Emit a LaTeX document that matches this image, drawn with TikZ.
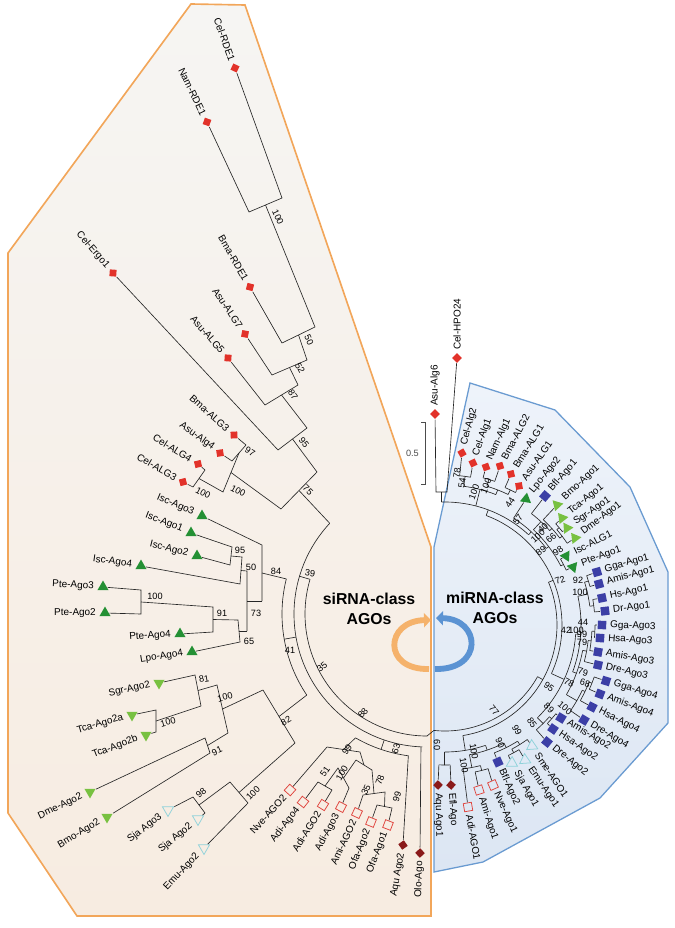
\documentclass[tikz,border=0pt]{standalone}
\usepackage{fontspec}
\setmainfont{Liberation Sans}
\usetikzlibrary{arrows.meta,shapes.geometric,calc}
\definecolor{sitop}{HTML}{F6F5F3}
\definecolor{sibot}{HTML}{F7ECE1}
\definecolor{siline}{HTML}{F2A65A}
\definecolor{mitop}{HTML}{EEF3FA}
\definecolor{mibot}{HTML}{DCE6F3}
\definecolor{miline}{HTML}{6A9BD1}
\definecolor{nemred}{HTML}{E2322A}
\definecolor{chelgreen}{HTML}{249034}
\definecolor{insgreen}{HTML}{78C141}
\definecolor{platcyan}{HTML}{8FD2DA}
\definecolor{cnidred}{HTML}{E0453E}
\definecolor{spongered}{HTML}{8A1A1A}
\definecolor{vertblue}{HTML}{3C3FA6}
\definecolor{siarrow}{HTML}{F5B26B}
\definecolor{miarrow}{HTML}{5B93D3}
\tikzset{
  br/.style={line width=0.55pt,black!85},
  mk/.style={inner sep=0pt,outer sep=0.5pt},
  nemd/.style={mk,diamond,fill=nemred,minimum size=8.6pt},
  spod/.style={mk,diamond,fill=spongered,minimum size=8.6pt},
  vsq/.style={mk,rectangle,fill=vertblue,minimum size=7.2pt},
  csq/.style={mk,rectangle,draw=cnidred,line width=0.65pt,minimum size=7pt},
  chtri/.style={mk,regular polygon,regular polygon sides=3,fill=chelgreen,minimum size=11pt},
  intri/.style={mk,regular polygon,regular polygon sides=3,fill=insgreen,minimum size=11pt},
  pltri/.style={mk,regular polygon,regular polygon sides=3,draw=platcyan,line width=0.65pt,minimum size=11pt},
  lbl/.style={font=\fontsize{8.5}{9}\selectfont,inner sep=0pt},
  lblL/.style={lbl,anchor=east},
  lblR/.style={lbl,anchor=west},
  bs/.style={font=\fontsize{7.8}{8}\selectfont,inner sep=0pt},
  clade/.style={font=\fontsize{13.5}{17}\selectfont\bfseries,align=center},
}

\begin{document}
\begin{tikzpicture}[x=0.03cm,y=-0.03cm]
  \useasboundingbox (0,0) rectangle (675,928);
  % the two panels
  \path[draw=siline,line width=1.4pt,top color=sitop,bottom color=sibot]
    (191,4) -- (245,5) -- (431,547) -- (431,916) -- (77,916) -- (8,813) -- (8,253) -- cycle;
  \path[draw=miline,line width=1.1pt,top color=mitop,bottom color=mibot]
    (470,383) -- (555,410) -- (630,487) -- (668,572) -- (668,723) -- (600,798)
    -- (483,862) -- (434,872) -- (434,547) -- cycle;
  \coordinate (CL) at (427,614);
  \coordinate (CR) at (445,625);

  % siRNA-class leaves
  \foreach \n/\x/\y/\rot/\lab in {celrde1/235/68/-70/Cel-RDE1, namrde1/207/122/-64/Nam-RDE1,
      bmarde1/250/287/-60/Bma-RDE1, asualg7/245/334/-56/Asu-ALG7, asualg5/228/358/-49/Asu-ALG5,
      celergo1/113/273/-49/Cel-Ergo1, bmaalg3/234/435/-42/Bma-ALG3, asualg4/220/453/-36/Asu-Alg4,
      celalg4/198/464/-32/Cel-ALG4, celalg3/183/482/-30/Cel-ALG3}{
    \node[nemd,rotate=\rot] (\n) at (\x,\y) {};
    \node[lblL,rotate=\rot] (\n-t) at ([shift={({-(\rot)-180}:8)}]\n) {\lab};
  }
  \foreach \n/\x/\y/\rot/\lab in {iscago3/202/516/-23/Isc-Ago3, iscago1/191/533/-21/Isc-Ago1,
      iscago2/197/556/-14/Isc-Ago2, iscago4/141/566/-8/Isc-Ago4, pteago3/103/587/-3/Pte-Ago3,
      pteago2/105/613/0/Pte-Ago2, pteago4/180/634/4/Pte-Ago4, lpoago4/192/652/9/Lpo-Ago4}{
    \node[chtri] (\n) at (\x,\y) {};
    \node[lblL,rotate=\rot] (\n-t) at ([shift={({-(\rot)-180}:9)}]\n) {\lab};
  }
  \foreach \n/\x/\y/\rot/\lab in {sgrago2/159/683/12/Sgr-Ago2, tcaago2a/132/715/16/Tca-Ago2a,
      tcaago2b/146/735/21/Tca-Ago2b, dmeago2/90/792/26/Dme-Ago2, bmoago2/107/817/31/Bmo-Ago2}{
    \node[intri,rotate=180] (\n) at (\x,\y) {};
    \node[lblL,rotate=\rot] (\n-t) at ([shift={({-(\rot)-180}:9)}]\n) {\lab};
  }
  \foreach \n/\x/\y/\rot/\lab in {sjaago3/168/810/38/Sja Ago3, sjaago2/198/819/40/Sja Ago2,
      emuago2/204/848/47/Emu-Ago2}{
    \node[pltri,rotate=180] (\n) at (\x,\y) {};
    \node[lblL,rotate=\rot] (\n-t) at ([shift={({-(\rot)-180}:9)}]\n) {\lab};
  }
  \foreach \n/\x/\y/\rot/\lab in {nveago2/290/790/48/Nve-AGO2, adiago4/303/802/52/Adi-Ago4,
      adiago2/323/805/58/Adi-AGO2, adiago3/341/807/62/Adi-Ago3, amiago2/357/813/65/Ami-AGO2,
      ofaago2/371/822/68/Ofa-Ago2, ofaago1/388/825/69/Ofa-Ago1}{
    \node[csq,rotate=\rot] (\n) at (\x,\y) {};
    \node[lblL,rotate=\rot] (\n-t) at ([shift={({-(\rot)-180}:8)}]\n) {\lab};
  }
  \foreach \n/\x/\y/\rot/\lab in {aquago2/403/845/80/Aqu Ago2, oloago/420/853/88/Olo-Ago}{
    \node[spod,rotate=\rot] (\n) at (\x,\y) {};
    \node[lblL,rotate=\rot] (\n-t) at ([shift={({-(\rot)-180}:8)}]\n) {\lab};
  }

  % miRNA-class leaves
  \foreach \n/\x/\y/\rot/\lab in {celhpo24/457/358/90/Cel-HPO24, asualg6/435/414/90/Asu-Alg6,
      celalg2/462/453/75/Cel-Alg2, celalg1/473/463/70/Cel-Alg1, namalg1/486/467/65/Nam-Alg1,
      bmaalg2/500/466/62/Bma-ALG2, bmaalg1/511/474/58/Bma-ALG1, asualg1/519/486/55/Asu-ALG1}{
    \node[nemd,rotate=\rot] (\n) at (\x,\y) {};
    \node[lblR,rotate=\rot] (\n-t) at ([shift={({-(\rot)}:8)}]\n) {\lab};
  }
  \foreach \n/\x/\y/\rot/\lab in {lpoago2/526/499/51/Lpo-Ago2, iscalg1/566/556/27/Isc-ALG1,
      pteago1/573/567/20/Pte-Ago1}{
    \node[chtri,rotate=\rot+180] (\n) at (\x,\y) {};
    \node[lblR,rotate=\rot] (\n-t) at ([shift={({-(\rot)}:9)}]\n) {\lab};
  }
  \foreach \n/\x/\y/\rot/\lab in {bmoago1/557/505/43/Bmo-Ago1, tcaago1/562/518/38/Tca-Ago1,
      sgrago1/567/528/34/Sgr-Ago1, dmeago1/575/538/37/Dme-Ago1}{
    \node[intri,rotate=\rot] (\n) at (\x,\y) {};
    \node[lblR,rotate=\rot] (\n-t) at ([shift={({-(\rot)}:9)}]\n) {\lab};
  }
  \foreach \n/\x/\y/\rot/\lab in {bflago1/545/496/49/Bfl-Ago1, ggaago1/597/572/16/Gga-Ago1,
      amisago1/599/584/15/Amis-Ago1, hsago1/602/598/12/Hs-Ago1, drago1/605/611/7/Dr-Ago1,
      ggaago3/602/625/-2/Gga-Ago3, hsaago3/600/638/-4/Hsa-Ago3, amisago3/598/652/-10/Amis-Ago3,
      dreago3/598/665/-13/Dre-Ago3, ggaago4/606/681/-17/Gga-Ago4, amisago4/600/694/-21/Amis-Ago4,
      hsaago4/592/707/-27/Hsa-Ago4, dreago4/584/720/-31/Dre-Ago4, amisago2/561/718/-31/Amis-Ago2,
      hsaago2/553/729/-34/Hsa-Ago2, dreago2/547/742/-39/Dre-Ago2, bflago2/498/762/-66/Bfl-Ago2}{
    \node[vsq,rotate=\rot] (\n) at (\x,\y) {};
    \node[lblR,rotate=\rot] (\n-t) at ([shift={({-(\rot)}:8)}]\n) {\lab};
  }
  \foreach \n/\x/\y/\rot/\lab in {smeago1/532/746/-56/Sme-AGO1, emuago1/525/760/-56/Emu-Ago1,
      sjaago1/512/763/-61/Sja Ago1}{
    \node[pltri,rotate=\rot+180] (\n) at (\x,\y) {};
    \node[lblR,rotate=\rot] (\n-t) at ([shift={({-(\rot)}:9)}]\n) {\lab};
  }
  \foreach \n/\x/\y/\rot/\lab in {nveago1/493/785/-66/Nve-Ago1, amiago1/479/790/-72/Ami-Ago1,
      adiago1/468/807/-80/Adi-AGO1}{
    \node[csq,rotate=\rot] (\n) at (\x,\y) {};
    \node[lblR,rotate=\rot] (\n-t) at ([shift={({-(\rot)}:8)}]\n) {\lab};
  }
  \foreach \n/\x/\y/\rot/\lab in {eflago/451/785/-86/Efl-Ago, aquago1/438/785/-89/Aqu Ago1}{
    \node[spod,rotate=\rot] (\n) at (\x,\y) {};
    \node[lblR,rotate=\rot] (\n-t) at ([shift={({-(\rot)}:8)}]\n) {\lab};
  }

  % siRNA-class branches: nematode clade
  \coordinate (a1) at (282,198);  \coordinate (a2) at (249,212);
  \coordinate (a3) at (315,327);  \coordinate (a4) at (282,343);
  \coordinate (a5) at (307,360);  \coordinate (a6) at (272,375);
  \coordinate (a7) at (298,385);  \coordinate (a8) at (265,405);
  \coordinate (a9) at (307,428);  \coordinate (a10) at (278,450);
  \coordinate (a11) at (317,472); \coordinate (a12) at (281,509);
  \coordinate (a13) at ([shift={(223:133)}]CL);
  \draw[br] (celrde1) -- (a1) -- (a2) -- (namrde1);
  \draw[br] ($(a1)!.5!(a2)$) -- (a3) -- (a4) -- (bmarde1);
  \draw[br] ($(a3)!.5!(a4)$) -- (a5) -- (a6) -- (asualg7);
  \draw[br] ($(a5)!.5!(a6)$) -- (a7) -- (a8) -- (asualg5);
  \draw[br] ($(a7)!.5!(a8)$) -- (a9) -- (a10) -- (celergo1);
  \draw[br] ($(a9)!.5!(a10)$) -- (a11) -- (a12);
  \draw[br] ($(a11)!.5!(a12)$) -- (a13);
  \coordinate (b1) at (246,445); \coordinate (b2) at (232,461);
  \coordinate (b3) at (205,470); \coordinate (b4) at (193,487);
  \coordinate (b5) at (223,492); \coordinate (m97) at ($(b1)!.5!(b2)$);
  \draw[br] (bmaalg3) -- (b1) -- (b2) -- (asualg4);
  \draw[br] (celalg4) -- (b3) -- (b4) -- (celalg3);
  \draw[br] ($(b3)!.5!(b4)$) -- (b5) -- (m97);
  \draw[br] ($(b5)!.5!(m97)$) -- (a12);
  % chelicerate clade
  \coordinate (c1) at (262,545);  \coordinate (c2) at (232,547);
  \coordinate (c3) at (230,565);  \coordinate (c4) at (242,557);
  \coordinate (c5) at (240,584);  \coordinate (c6) at (141,590);
  \coordinate (c7) at (141,614);  \coordinate (c8) at (213,607);
  \coordinate (c9) at (213,632);  \coordinate (c10) at (238,620);
  \coordinate (c11) at (240,642); \coordinate (c12) at (247,631);
  \coordinate (c13) at (247,571); \coordinate (c14) at (262,601);
  \coordinate (c15) at ([shift={(194:145)}]CL);
  \draw[br] (iscago3) -- (c1) -- (c14);
  \draw[br] (iscago1) -- (c2) -- (c3) -- (iscago2);
  \draw[br] ($(c2)!.5!(c3)$) -- (c4) -- (c5) -- (iscago4);
  \draw[br] ($(c4)!.5!(c5)$) -- (c13) -- (c12);
  \draw[br] (pteago3) -- (c6) -- (c7) -- (pteago2);
  \draw[br] ($(c6)!.5!(c7)$) -- (c8) -- (c9) -- (pteago4);
  \draw[br] ($(c8)!.5!(c9)$) -- (c10) -- (c11) -- (lpoago4);
  \draw[br] ($(c10)!.5!(c11)$) -- (c12);
  \draw[br] ($(c13)!.5!(c12)$) -- (c14);
  \draw[br] ($(c1)!.5!(c14)$) -- (c15);
  % insect and flatworm clades
  \coordinate (d1) at (195,675); \coordinate (d2) at (156,710);
  \coordinate (d3) at (156,732); \coordinate (d4) at (201,706);
  \coordinate (d5) at (217,685); \coordinate (d6) at (205,738);
  \coordinate (d7) at (210,753); \coordinate (d8) at (228,733);
  \coordinate (d9) at (263,690);
  \draw[br] (sgrago2) -- (d1) -- (d4);
  \draw[br] (tcaago2a) -- (d2) -- (d3) -- (tcaago2b);
  \draw[br] ($(d2)!.5!(d3)$) -- (d4);
  \draw[br] ($(d1)!.5!(d4)$) -- (d5) -- (d8);
  \draw[br] (dmeago2) -- (d6) -- (d7) -- (bmoago2);
  \draw[br] ($(d6)!.5!(d7)$) -- (d8);
  \draw[br] ($(d5)!.5!(d8)$) -- (d9);
  \coordinate (e1) at (193,797); \coordinate (e2) at (205,813);
  \coordinate (e3) at (230,782); \coordinate (e4) at (248,803);
  \coordinate (e5) at (295,743); \coordinate (e6) at ([shift={(146:145)}]CL);
  \draw[br] (sjaago3) -- (e1) -- (e2) -- (sjaago2);
  \draw[br] ($(e1)!.5!(e2)$) -- (e3) -- (e4) -- (emuago2);
  \draw[br] ($(e3)!.5!(e4)$) -- (e5) -- (d9);
  \draw[br] ($(d9)!.5!(e5)$) -- (e6);
  % cnidarian and sponge leaves
  \coordinate (g1) at (327,747);  \coordinate (g2) at (318,782);
  \coordinate (g3) at (332,790);  \coordinate (g4) at (338,768);
  \coordinate (g5) at (349,788);  \coordinate (g6) at (356,760);
  \coordinate (g7) at (363,795);  \coordinate (g8) at (377,805);
  \coordinate (g9) at (392,808);  \coordinate (g10) at (385,792);
  \coordinate (g11) at (372,770); \coordinate (g12) at (360,752);
  \coordinate (f1) at ([shift={(92.6:133)}]CL);
  \coordinate (f2) at ([shift={(97.5:143)}]CL);
  \coordinate (f3) at ([shift={(120:143)}]CL);
  \draw[br] (nveago2) -- (g1);
  \draw[br] (adiago4) -- (g2) -- (g3) -- (adiago2);
  \draw[br] ($(g2)!.5!(g3)$) -- (g4) -- (g5) -- (adiago3);
  \draw[br] ($(g4)!.5!(g5)$) -- (g6);
  \draw[br] (ofaago2) -- (g8) -- (g9) -- (ofaago1);
  \draw[br] ($(g8)!.5!(g9)$) -- (g10) -- (g7) -- (amiago2);
  \draw[br] ($(g10)!.5!(g7)$) -- (g11) -- (g6);
  \draw[br] ($(g11)!.5!(g6)$) -- (g12) -- (g1);
  \draw[br] ($(g12)!.5!(g1)$) -- (f3);
  \draw[br] (oloago) -- (f1);
  \draw[br] (aquago2) -- (f2) arc[start angle=97.5,end angle=120,radius=143];
  \draw[br] ([shift={(108.75:143)}]CL) -- ([shift={(108.75:133)}]CL);
  % siRNA-class backbone
  \draw[br] (e6) arc[start angle=146,end angle=194,radius=145];
  \draw[br] ([shift={(170:145)}]CL) -- ([shift={(170:133)}]CL);
  \draw[br] ([shift={(92:133)}]CL) arc[start angle=92,end angle=223,radius=133];
  \draw[br] ([shift={(196.5:133)}]CL) -- ([shift={(196.5:122)}]CL);
  \draw[br] ([shift={(90:122)}]CL) arc[start angle=90,end angle=196.5,radius=122];
  \draw[br] ([shift={(90:122)}]CL) -- ([shift={(96:106)}]CR);

  % miRNA-class branches
  \coordinate (h1) at (436,492); \coordinate (h2) at (447,492);
  \coordinate (h3) at ([shift={(268.4:123)}]CR);
  \draw[br] (asualg6) -- (h1) -- (h2) -- (celhpo24);
  \draw[br] ($(h1)!.5!(h2)$) -- (h3);
  \foreach \n/\a/\p in {celalg2/275.6/150, celalg1/279.8/150, namalg1/284.5/152, bmaalg2/289.1/152,
      bmaalg1/293.6/150, asualg1/298/150, lpoago2/302.7/127, bflago1/307.8/141, bmoago1/313/144,
      tcaago1/317.6/150, sgrago1/321.5/150, dmeago1/326.2/147, iscalg1/330.3/133, pteago1/335.6/133,
      ggaago1/340.8/150, amisago1/345.1/150, hsago1/350.2/150, drago1/355/150, ggaago3/360/150,
      hsaago3/364.8/150, amisago3/370/147, dreago3/374.7/144, ggaago4/379.2/158, amisago4/384/158,
      hsaago4/389.2/155, dreago4/394.3/152, amisago2/398.7/142, hsaago2/403.9/142, dreago2/408.9/139,
      smeago1/414.3/141, emuago1/419.3/145, sjaago1/424.1/145, bflago2/428.9/137, nveago1/433.3/150,
      amiago1/438.4/150, adiago1/442.8/145, eflago/447.9/140, aquago1/452.5/140}
    \draw[br] (\n) -- ([shift={(\a:\p)}]CR);
  \foreach \p/\a/\b/\q in {150/275.6/279.8/140, 152/284.5/289.1/145, 150/293.6/298/145,
      145/286.8/295.8/140, 140/277.7/291.3/123, 150/317.6/321.5/147, 147/319.55/326.2/144,
      144/313/322.9/141, 141/307.8/317.95/130, 133/330.3/335.6/130, 130/312.9/332.95/127,
      127/302.7/322.9/123, 123/268.4/312.8/117, 150/340.8/345.1/146, 150/350.2/355/146,
      146/342.95/352.6/136, 150/360/364.8/147, 147/362.4/370/144, 144/366.2/374.7/140,
      158/379.2/384/155, 155/381.6/389.2/152, 152/385.4/394.3/140, 140/370.45/389.85/136,
      136/347.8/380.15/131, 142/398.7/403.9/139, 139/401.3/408.9/131, 131/363.98/405.1/117,
      117/290.6/384.5/112, 145/419.3/424.1/141, 141/414.3/421.7/137, 137/418/428.9/132,
      150/433.3/438.4/145, 145/435.85/442.8/132, 132/423.45/439.3/127, 140/447.9/452.5/127,
      127/431.4/450.2/112, 112/337.55/440.8/106}{
    \pgfmathsetmacro\m{(\a+\b)/2}
    \draw[br] ([shift={(\a:\p)}]CR) arc[start angle=\a,end angle=\b,radius=\p];
    \draw[br] ([shift={(\m:\p)}]CR) -- ([shift={(\m:\q)}]CR);
  }
  \draw[br] ([shift={(389.2:106)}]CR) arc[start angle=389.2,end angle=456,radius=106];

  % support values
  \foreach \x/\y/\rot/\v [count=\i] in {278/217/-65/100, 309/340/-65/50, 300/368/-60/52,
      293/395/-55/87, 304/443/-52/95, 308/490/-45/75, 250/452/-32/97, 203/493/-28/100,
      238/491/-28/100, 240/550/0/95, 251/567/0/50, 276/571/0/84, 310/573/-8/39, 155/596/0/100,
      222/613/0/91, 256/613/0/73, 249/641/0/65, 290/650/0/41, 204/679/10/81, 225/697/15/100,
      168/722/15/100, 286/721/30/82, 217/751/25/91, 201/793/40/98, 253/793/45/100,
      322/667/40/35, 363/713/50/88, 347/750/55/99, 396/749/75/63, 325/772/55/51,
      342/773/60/100, 366/790/65/35, 380/780/70/78, 397/797/75/99}
    \node[bs,rotate=\rot] (sv\i) at (\x,\y) {\v};
  \foreach \x/\y/\rot/\v [count=\i] in {457/473/82/78, 462/483/82/54, 474/492/70/100,
      486/486/68/100, 510/503/55/44, 518/520/52/57, 543/528/45/40, 538/536/42/100, 551/538/40/66,
      541/551/35/89, 558/551/35/98, 560/580/20/72, 578/580/0/92, 580/592/0/100, 566/630/0/42,
      583/622/0/44, 576/630/0/100, 582/634/0/99, 582/642/0/79, 583/672/-15/79, 585/683/-15/68,
      569/683/-25/78, 549/687/-35/95, 565/708/-40/100, 549/708/-45/89, 532/723/-55/85,
      517/730/-60/99, 500/743/-65/90, 494/710/-50/77, 474/751/-80/100, 464/765/-80/100,
      437/745/-90/60}
    \node[bs,rotate=\rot] (sw\i) at (\x,\y) {\v};

  % scale bar
  \draw[black!70,line width=0.5pt] (421,422) -- (425,422) -- (425,484) -- (421,484);
  \node[bs,anchor=east,text=black!70] (scale) at (419,453) {0.5};

  % class titles and arrows
  \node[clade] (sitext) at (369,609) {siRNA-class\\AGOs};
  \node[clade] (mitext) at (495,608) {miRNA-class\\AGOs};
  \draw[line width=5pt,draw=siarrow,-{Triangle[length=6pt,width=12pt]}]
    (429,669) .. controls (382,670) and (385,621) .. (431,620);
  \draw[line width=5pt,draw=miarrow,-{Triangle[length=6pt,width=12pt]}]
    (435,669) .. controls (484,670) and (481,619) .. (436,618);
\end{tikzpicture}
\end{document}
